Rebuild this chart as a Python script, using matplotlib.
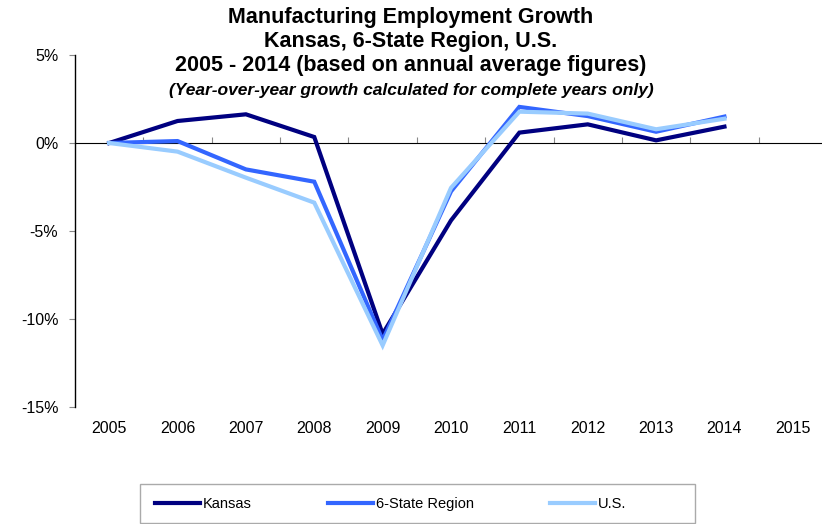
import matplotlib
matplotlib.use("Agg")
import matplotlib.pyplot as plt
from matplotlib.patches import Rectangle
from matplotlib.ticker import FixedLocator, NullFormatter

plt.rcParams['font.family'] = ['Liberation Sans', 'DejaVu Sans']

# 数据：制造业就业年增长率（%）
years = ['2005', '2006', '2007', '2008', '2009', '2010',
         '2011', '2012', '2013', '2014', '2015']
kansas = [0.0, 1.25, 1.63, 0.34, -10.85, -4.4, 0.59, 1.06, 0.15, 0.93]
region = [0.0, 0.11, -1.5, -2.2, -11.2, -2.75, 2.05, 1.53, 0.64, 1.5]
us = [0.0, -0.49, -1.97, -3.39, -11.5, -2.55, 1.78, 1.67, 0.78, 1.38]
yticks = [5, 0, -5, -10, -15]

W, H = 822, 524
fig = plt.figure(figsize=(W / 100, H / 100), dpi=100)
fig.patch.set_facecolor('white')

# 坐标区位置（像素换算）
left, right, top, bottom = 75, 827, 55, 407
ax = fig.add_axes([left / W, 1 - bottom / H, (right - left) / W, (bottom - top) / H])

x = range(len(kansas))
ax.plot(x, kansas, color='#000080', lw=3, label='Kansas', solid_joinstyle='miter')
ax.plot(x, region, color='#3366FF', lw=3, label='6-State Region', solid_joinstyle='miter')
ax.plot(x, us, color='#99CCFF', lw=3, label='U.S.', solid_joinstyle='miter')

ax.set_xlim(-0.5, len(years) - 0.5)
ax.set_ylim(-15, 5)

# 坐标轴样式
for s in ['top', 'right', 'bottom']:
    ax.spines[s].set_visible(False)
ax.spines['left'].set_linewidth(1)
ax.set_yticks(yticks)
ax.set_yticklabels([f'{v}%' for v in yticks], fontsize=11.5)
ax.tick_params(axis='y', direction='out', length=4, width=0.8, color='#888888', pad=8)
ax.set_xticks(list(range(len(years))))
ax.set_xticklabels(years, fontsize=11.5)
ax.tick_params(axis='x', length=0, pad=10)

# 0% 处的横轴及分隔刻度
zero_ax = ax.secondary_xaxis(15 / 20)
zero_ax.spines['bottom'].set_linewidth(1)
zero_ax.xaxis.set_major_locator(FixedLocator([i + 0.5 for i in range(len(years))]))
zero_ax.xaxis.set_major_formatter(NullFormatter())
zero_ax.tick_params(axis='x', direction='out', length=4, width=0.8, color='#888888')

# 标题
title_lines = ['Manufacturing Employment Growth',
               'Kansas, 6-State Region, U.S.',
               '2005 - 2014 (based on annual average figures)']
for i, line in enumerate(title_lines):
    fig.text(0.5, 1 - (18 + 24 * i) / H, line, ha='center', va='center',
             fontsize=15.5, fontweight='bold')
fig.text(0.5, 1 - 90 / H, '(Year-over-year growth calculated for complete years only)',
         ha='center', va='center', fontsize=12.5, fontweight='bold', style='italic')

# 图例：外框单独画，条目不带边框
fig.patches.append(Rectangle((140 / W, 1 - 523 / H), 555 / W, 39 / H,
                             transform=fig.transFigure, facecolor='white',
                             edgecolor='#aaaaaa', lw=1, zorder=0))
leg = fig.legend(loc='center left', ncol=3,
                 bbox_to_anchor=(155 / W, 1 - 504 / H),
                 frameon=False, fontsize=10.5,
                 handlelength=3.1, handletextpad=0.2, borderaxespad=0, borderpad=0,
                 columnspacing=5.2)

fig.savefig('out.png', dpi=100)
